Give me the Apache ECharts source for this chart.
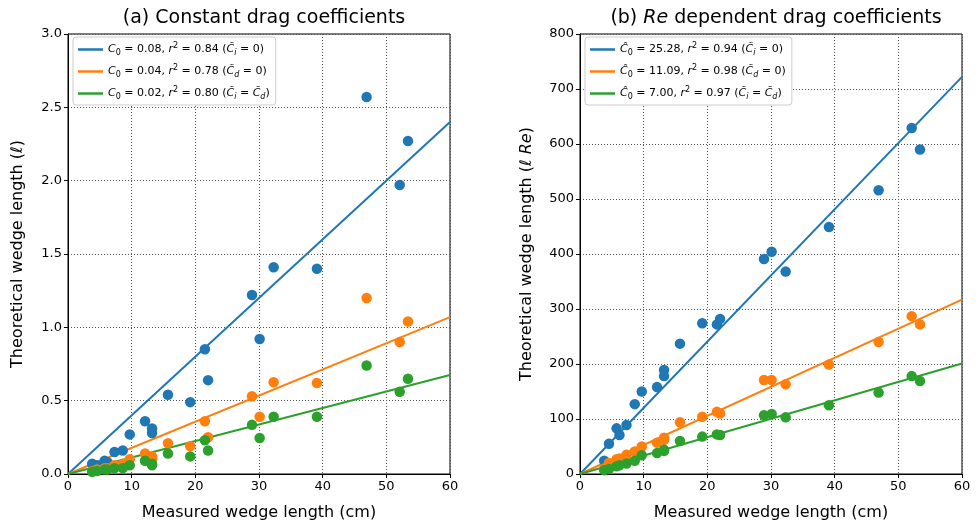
<!DOCTYPE html>
<html>
<head>
<meta charset="utf-8">
<script src="https://cdn.jsdelivr.net/npm/echarts@6/dist/echarts.min.js"></script>
<style>
  html, body { margin: 0; padding: 0; background: #fff; }
  #chart { width: 979px; height: 526px; }
</style>
</head>
<body>
<div id="chart"></div>
<script>
// measured wedge length (cm), shared by both panels
var measured = [3.8, 4.55, 5.75, 6.2, 7.3, 8.6, 9.7, 12.1, 13.2, 13.2, 15.7, 19.2, 21.5, 22.0, 28.9, 30.1, 32.3, 39.1, 46.9, 52.1, 53.4];

// (a) constant drag coefficients
var constCi0 = [0.07, 0.06, 0.09, 0.08, 0.15, 0.16, 0.27, 0.36, 0.31, 0.28, 0.54, 0.49, 0.85, 0.64, 1.22, 0.92, 1.41, 1.40, 2.57, 1.97, 2.27];
var constCd0 = [0.02, 0.03, 0.04, 0.04, 0.06, 0.07, 0.10, 0.14, 0.12, 0.10, 0.21, 0.19, 0.36, 0.25, 0.53, 0.39, 0.625, 0.62, 1.20, 0.90, 1.04];
var constEq = [0.015, 0.02, 0.03, 0.03, 0.04, 0.04, 0.06, 0.09, 0.07, 0.06, 0.14, 0.12, 0.23, 0.16, 0.335, 0.245, 0.39, 0.39, 0.74, 0.56, 0.65];

// (b) Re dependent drag coefficients
var reCi0 = [24, 55, 83, 71, 89, 127, 150, 158, 178, 189, 237, 274, 272, 282, 391, 404, 368, 449, 516, 629, 590];
var reCd0 = [10, 20, 27, 28, 35, 41, 50, 57, 62, 66, 94, 104, 113, 110, 171, 171, 163, 199, 240, 287, 272];
var reEq = [7, 9, 14, 16, 19, 24, 34, 38, 42, 44, 60, 68, 72, 71, 107, 109, 103, 125, 148, 178, 169];

// fitted lines: value at x = 60
var fitX = [0, 60];
var fitConst = [2.4, 1.07, 0.675];
var fitRe = [722, 317, 201];

var xTicks = [0, 10, 20, 30, 40, 50, 60];
var leftYTicks = [0, 0.5, 1.0, 1.5, 2.0, 2.5, 3.0];
var rightYTicks = [0, 100, 200, 300, 400, 500, 600, 700, 800];

var colors = ['#1f77b4', '#ff7f0e', '#2ca02c'];

var legendA = [
    '{i|C}{sub|0} = 0.08, {i|r}{sup|2} = 0.84 ({i|C\u0303}{subi|i} = 0)',
    '{i|C}{sub|0} = 0.04, {i|r}{sup|2} = 0.78 ({i|C\u0303}{subi|d} = 0)',
    '{i|C}{sub|0} = 0.02, {i|r}{sup|2} = 0.80 ({i|C\u0303}{subi|i} = {i|C\u0303}{subi|d})'
];
var legendB = [
    '{i|\u0108}{sub|0} = 25.28, {i|r}{sup|2} = 0.94 ({i|C\u0303}{subi|i} = 0)',
    '{i|\u0108}{sub|0} = 11.09, {i|r}{sup|2} = 0.98 ({i|C\u0303}{subi|d} = 0)',
    '{i|\u0108}{sub|0} = 7.00, {i|r}{sup|2} = 0.97 ({i|C\u0303}{subi|i} = {i|C\u0303}{subi|d})'
];

var font = 'DejaVu Sans';
var legendRich = {
    i: { fontSize: 11, fontStyle: 'italic', lineHeight: 15, fontFamily: font },
    sub: { fontSize: 8, lineHeight: 8, verticalAlign: 'bottom', fontFamily: font },
    subi: { fontSize: 8, lineHeight: 8, verticalAlign: 'bottom', fontStyle: 'italic', fontFamily: font },
    sup: { fontSize: 8, lineHeight: 8, verticalAlign: 'top', fontFamily: font }
};

function pairs(xs, ys) {
    return xs.map(function (x, k) { return [x, ys[k]]; });
}

function xAxis(idx) {
    return {
        type: 'value', gridIndex: idx, min: 0, max: 60, interval: 10,
        name: 'Measured wedge length (cm)', nameLocation: 'middle', nameGap: 31,
        nameTextStyle: { fontSize: 16, color: '#000', fontFamily: font },
        axisLine: { lineStyle: { color: '#000', width: 1 } },
        axisTick: { show: true, length: 4, lineStyle: { color: '#000' } },
        axisLabel: { fontSize: 13, color: '#000', fontFamily: font, margin: 6 },
        splitLine: { show: true, lineStyle: { type: [1, 2], color: '#555', width: 1 } }
    };
}

function yAxis(idx, ticks, name, gap, fmt) {
    return {
        type: 'value', gridIndex: idx, min: ticks[0], max: ticks[ticks.length - 1],
        interval: ticks[1] - ticks[0],
        name: name, nameLocation: 'middle', nameGap: gap,
        nameTextStyle: {
            fontSize: 16, color: '#000', fontFamily: font,
            rich: { i: { fontSize: 16, fontStyle: 'italic', fontFamily: font } }
        },
        axisLine: { show: true, lineStyle: { color: '#000', width: 1 } },
        axisTick: { show: true, length: 4, lineStyle: { color: '#000' } },
        axisLabel: { fontSize: 13, color: '#000', fontFamily: font, margin: 6, formatter: fmt },
        splitLine: { show: true, lineStyle: { type: [1, 2], color: '#555', width: 1 } }
    };
}

function scatter(idx, ys, c) {
    return {
        type: 'scatter', xAxisIndex: idx, yAxisIndex: idx,
        data: pairs(measured, ys), symbolSize: 10.5,
        itemStyle: { color: c, opacity: 1 }, z: 3, silent: true
    };
}

function fit(idx, name, end, c) {
    return {
        type: 'line', name: name, xAxisIndex: idx, yAxisIndex: idx,
        data: pairs(fitX, [0, end]), showSymbol: false, symbol: 'none',
        lineStyle: { color: c, width: 2 }, itemStyle: { color: c }, z: 2, silent: true
    };
}

function legend(names, left) {
    return {
        data: names.map(function (n) { return { name: n, icon: 'rect' }; }),
        orient: 'vertical', left: left, top: 37,
        itemWidth: 25, itemHeight: 2.5, itemGap: 7,
        backgroundColor: '#fff', borderColor: '#ccc', borderWidth: 1, borderRadius: 3,
        padding: [5, 6, 4, 5],
        textStyle: { fontSize: 11, color: '#000', fontFamily: font, lineHeight: 15, rich: legendRich },
        selectedMode: false
    };
}

var chart = echarts.init(document.getElementById('chart'), null, { renderer: 'canvas' });

var series = [];
[constCi0, constCd0, constEq].forEach(function (ys, k) { series.push(scatter(0, ys, colors[k])); });
[reCi0, reCd0, reEq].forEach(function (ys, k) { series.push(scatter(1, ys, colors[k])); });
legendA.forEach(function (n, k) { series.push(fit(0, n, fitConst[k], colors[k])); });
legendB.forEach(function (n, k) { series.push(fit(1, n, fitRe[k], colors[k])); });

var option = {
    animation: false,
    backgroundColor: '#fff',
    title: [
        {
            text: '(a) Constant drag coefficients', left: 259, top: 4, textAlign: 'center',
            textStyle: { fontSize: 19, fontWeight: 'normal', color: '#000', fontFamily: font }
        },
        {
            text: '(b) {i|Re} dependent drag coefficients', left: 771, top: 4, textAlign: 'center',
            textStyle: {
                fontSize: 19, fontWeight: 'normal', color: '#000', fontFamily: font,
                rich: { i: { fontSize: 19, fontStyle: 'italic', fontFamily: font } }
            }
        }
    ],
    legend: [legend(legendA, 73), legend(legendB, 585)],
    grid: [
        { left: 68, right: 529, top: 34, bottom: 50, show: true, borderColor: '#000', borderWidth: 1, backgroundColor: 'transparent' },
        { left: 580, right: 17, top: 34, bottom: 50, show: true, borderColor: '#000', borderWidth: 1, backgroundColor: 'transparent' }
    ],
    xAxis: [xAxis(0), xAxis(1)],
    yAxis: [
        yAxis(0, leftYTicks, 'Theoretical wedge length (\u2113)', 42, function (v) { return v.toFixed(1); }),
        yAxis(1, rightYTicks, 'Theoretical wedge length (\u2113 {i|Re})', 45, '{value}')
    ],
    series: series
};

chart.setOption(option);
</script>
</body>
</html>
